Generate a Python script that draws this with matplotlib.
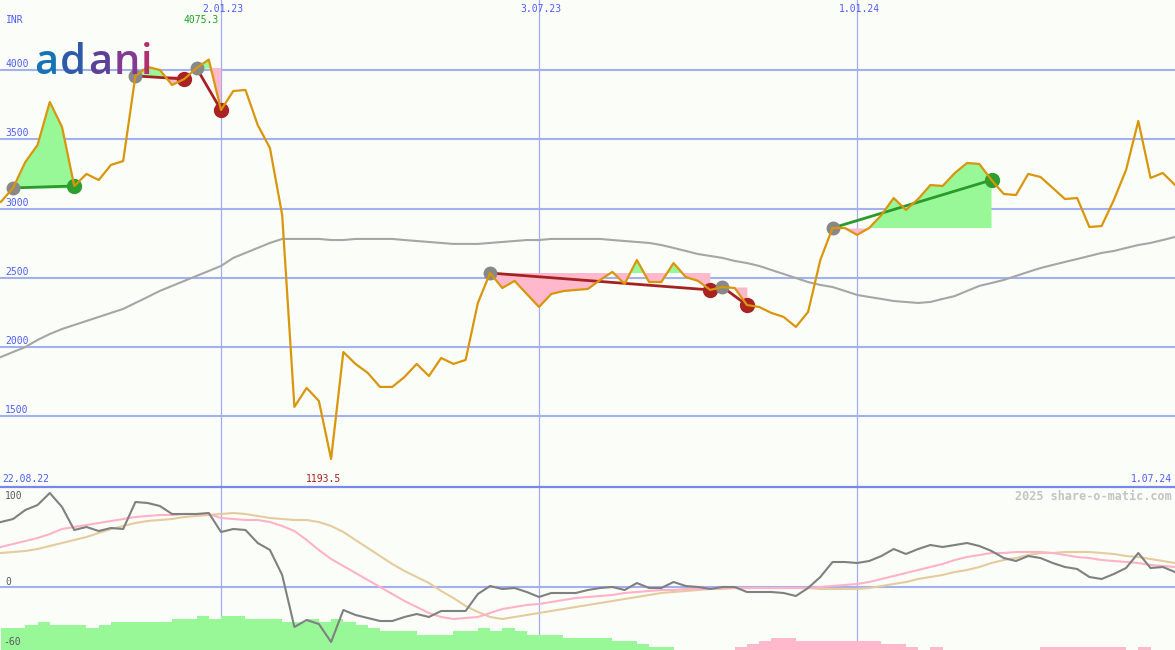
import matplotlib
matplotlib.use("Agg")
import numpy as np
import pandas as pd
import matplotlib.pyplot as plt
import matplotlib.dates as mdates

# weekly closes, INR
weeks = pd.date_range("2022-08-29", periods=97, freq="7D")
price = [3048, 3149, 3336, 3459, 3769, 3589, 3163, 3250, 3206, 3315,
         3343, 3957, 4022, 4000, 3892, 3935, 4014, 4075.3, 3711, 3848,
         3856, 3603, 3437, 2954, 1569, 1706, 1612, 1193.5, 1965, 1879,
         1814, 1713, 1713, 1785, 1879, 1792, 1922, 1879, 1908, 2319,
         2535, 2427, 2478, 2384, 2290, 2384, 2405, 2413, 2420, 2485,
         2543, 2456, 2629, 2470, 2470, 2607, 2506, 2478, 2413, 2434,
         2427, 2304, 2290, 2247, 2218, 2146, 2254, 2629, 2860, 2860,
         2810, 2860, 2954, 3076, 2990, 3069, 3170, 3163, 3257, 3329,
         3322, 3206, 3105, 3098, 3250, 3228, 3149, 3069, 3076, 2867,
         2874, 3062, 3279, 3632, 3221, 3257, 3170]
# long moving average (gray)
ma = [1929, 1965, 2001, 2052, 2095, 2131, 2160, 2189, 2218, 2247,
      2276, 2319, 2362, 2406, 2442, 2478, 2514, 2550, 2586, 2644,
      2680, 2716, 2752, 2781, 2781, 2781, 2781, 2773, 2773, 2781,
      2781, 2781, 2781, 2773, 2766, 2759, 2752, 2745, 2745, 2745,
      2752, 2759, 2766, 2773, 2773, 2781, 2781, 2781, 2781, 2781,
      2773, 2766, 2759, 2752, 2737, 2716, 2694, 2672, 2658, 2644,
      2622, 2607, 2586, 2557, 2528, 2499, 2470, 2449, 2434, 2406,
      2377, 2362, 2348, 2333, 2326, 2319, 2326, 2348, 2369, 2406,
      2442, 2463, 2485, 2514, 2543, 2571, 2593, 2615, 2636, 2658,
      2680, 2694, 2716, 2737, 2752, 2773, 2795]
# lower panel
mom = [65, 68, 77, 82, 94, 80, 57, 60, 56, 59,
       58, 85, 84, 81, 73, 73, 73, 74, 55, 58,
       57, 44, 37, 12, -40, -33, -37, -55, -23, -28,
       -31, -34, -34, -30, -27, -30, -24, -24, -24, -7,
       1, -2, -1, -5, -10, -6, -6, -6, -3, -1,
       0, -3, 4, -1, -1, 5, 1, 0, -2, 0,
       0, -5, -5, -5, -6, -9, -1, 10, 25, 25,
       24, 26, 31, 38, 33, 38, 42, 40, 42, 44,
       41, 36, 29, 26, 31, 29, 24, 20, 18, 10,
       8, 13, 19, 34, 19, 20, 15]
sig_fast = [40, 43, 46, 49, 53, 58, 60, 62, 64, 66,
            68, 70, 71, 72, 72, 73, 73, 73, 69, 68,
            67, 67, 65, 61, 56, 47, 37, 28, 21, 14,
            7, 0, -7, -14, -20, -26, -30, -32, -31, -30,
            -26, -22, -20, -18, -17, -15, -13, -11, -10, -9,
            -8, -6, -5, -4, -3, -3, -2, -2, -2, -1,
            -1, -1, -1, -1, -1, -1, -1, 0, 1, 2,
            3, 5, 8, 11, 14, 17, 20, 23, 27, 30,
            32, 34, 34, 35, 35, 35, 34, 32, 30, 29,
            27, 26, 25, 24, 22, 21, 20]
sig_slow = [34, 35, 36, 38, 41, 44, 47, 50, 54, 58,
            61, 64, 66, 67, 68, 70, 71, 72, 73, 74,
            73, 71, 69, 68, 67, 67, 65, 61, 55, 47,
            39, 31, 23, 16, 10, 4, -4, -11, -19, -25,
            -30, -32, -30, -28, -26, -24, -22, -20, -18, -16,
            -14, -12, -10, -8, -6, -5, -4, -3, -2, -2,
            -1, -1, -1, -1, -1, -1, -1, -2, -2, -2,
            -2, -1, 1, 3, 5, 8, 10, 12, 15, 17,
            20, 24, 27, 29, 32, 34, 34, 35, 35, 35,
            34, 33, 31, 30, 28, 26, 24]
hist = [22, 22, 25, 28, 25, 25, 25, 22, 25, 28,
        28, 28, 28, 28, 31, 31, 34, 31, 34, 34,
        31, 31, 31, 28, 28, 31, 28, 31, 28, 25,
        22, 19, 19, 19, 15, 15, 15, 19, 19, 22,
        19, 22, 19, 15, 15, 15, 12, 12, 12, 12,
        9, 9, 6, 3, 3, 0, 0, 0, 0, 0,
        -3, -6, -9, -12, -12, -9, -9, -9, -9, -9,
        -9, -9, -6, -6, -3, 0, -3, 0, 0, 0,
        0, 0, 0, 0, 0, -3, -3, -3, -3, -3,
        -3, -3, 0, -3, 0, 0, 0]
# trade signals: start week / end week
sig_start = [1, 11, 16, 40, 59, 68]
sig_end = [6, 15, 18, 58, 61, 81]

price_grid = [1500, 2000, 2500, 3000, 3500, 4000]
vdates = ["2023-01-02", "2023-07-03", "2024-01-01"]
vlabels = ["2.01.23", "3.07.23", "1.01.24"]

BG = "#fbfdf8"
GRID = "#a4b1f0"
BLUE = "#4f5cf5"
MONO = "DejaVu Sans Mono"
W, H = 1175, 650
SPLIT = 487

x = mdates.date2num(weeks)
price = np.array(price)

fig = plt.figure(figsize=(W / 100, H / 100), dpi=100, facecolor=BG)
ax = fig.add_axes([0, (H - SPLIT) / H, 1, SPLIT / H], facecolor=BG)
ax2 = fig.add_axes([0, 0, 1, (H - SPLIT) / H], facecolor=BG)

for a in (ax, ax2):
    a.set_xlim(x[0] - 0.5, x[-1])
    a.set_xticks([])
    a.set_yticks([])
    for sp in a.spines.values():
        sp.set_visible(False)
    for d in vdates:
        a.axvline(mdates.date2num(pd.Timestamp(d)), color="#a3abf2", lw=0.9, zorder=1)

ax.set_ylim(991, 4505)
ax2.set_ylim(-63, 100)

for v in price_grid:
    ax.axhline(v, color=GRID, lw=1.5, zorder=1)
    ax.annotate(str(v), xy=(0, v), xycoords=("axes fraction", "data"), xytext=(5, 1),
                textcoords="offset pixels", ha="left", va="bottom", color=BLUE,
                family=MONO, fontsize=7)

for d, lbl in zip(vdates, vlabels):
    ax.annotate(lbl, xy=(mdates.date2num(pd.Timestamp(d)), 1), xycoords=("data", "axes fraction"),
                xytext=(2, -9), textcoords="offset pixels", ha="center", va="center",
                color=BLUE, family=MONO, fontsize=7)

# gray long average
ax.plot(x, ma, color="#a6a6a6", lw=1.5, zorder=3)

# signal areas, lines and dots
for s, e in zip(sig_start, sig_end):
    sx = x[s:e + 1]
    sp_ = price[s:e + 1]
    base = price[s]
    ax.fill_between(sx, sp_, base, where=sp_ >= base, interpolate=True, color="#98f898", lw=0, zorder=2)
    ax.fill_between(sx, sp_, base, where=sp_ <= base, interpolate=True, color="#ffb8cc", lw=0, zorder=2)
    win = price[e] > base
    ax.plot([x[s], x[e]], [base, price[e]], color="#2a9a2a" if win else "#a52222", lw=2, zorder=4)
    ax.plot(x[s], base, "o", ms=9, color="#888888", zorder=5)
    ax.plot(x[e], price[e], "o", ms=10, color="#2e9e2e" if win else "#aa2222", zorder=5)

ax.plot(x, price, color="#d9960c", lw=1.6, zorder=6)

# high / low labels
imax = int(np.argmax(price))
imin = int(np.argmin(price))
ax.annotate(f"{price[imax]:.1f}", xy=(x[imax], 1), xycoords=("data", "axes fraction"),
            xytext=(-8, -20), textcoords="offset pixels", ha="center", va="center",
            color="#22a022", family=MONO, fontsize=7)
ax.annotate(f"{price[imin]:.1f}", xy=(x[imin], 0), xycoords=("data", "axes fraction"),
            xytext=(-8, 8), textcoords="offset pixels", ha="center", va="center",
            color="#a82222", family=MONO, fontsize=7)

# lower panel
ax2.axhline(0, color=GRID, lw=1.5, zorder=1)
ax2.axhline(100, color="#7888ea", lw=1.6, zorder=7, clip_on=False)
hist = np.array(hist)
ax2.bar(x, np.abs(hist), width=7, bottom=-63, align="edge",
        color=np.where(hist >= 0, "#98f898", "#ffb8cc"), lw=0, zorder=2)
ax2.plot(x, sig_slow, color="#e4cc9e", lw=1.5, zorder=3)
ax2.plot(x, sig_fast, color="#ffb2c8", lw=1.5, zorder=4)
ax2.plot(x, mom, color="#808080", lw=1.5, zorder=5)


def px(xp, yp):
    return xp / W, 1 - yp / H


fig.text(*px(6, 20), "INR", color=BLUE, family=MONO, fontsize=7, va="center")
fig.text(*px(2, 479), "22.08.22", color=BLUE, family=MONO, fontsize=7, va="center")
fig.text(*px(1172, 479), "1.07.24", color=BLUE, family=MONO, fontsize=7, va="center", ha="right")
fig.text(*px(5, 496), "100", color="#5a5a5a", family=MONO, fontsize=7, va="center")
fig.text(*px(5, 582), "0", color="#5a5a5a", family=MONO, fontsize=7, va="center")
fig.text(*px(3, 642), "-60", color="#5a5a5a", family=MONO, fontsize=7, va="center")
fig.text(*px(1172, 496), "2025 share-o-matic.com", color="#c4c4c4", family=MONO,
         fontsize=8.5, fontweight="bold", va="center", ha="right")

# logo, one letter per colour step
logo = [("a", 34, "#1673b5"), ("d", 60, "#2e5aa8"), ("a", 88, "#5c4199"),
        ("n", 114, "#823a92"), ("i", 141, "#b03070")]
for ch, lx, col in logo:
    fig.text(*px(lx, 74), ch, color=col, family="Open Sans", fontsize=30,
             fontweight="semibold", va="baseline", ha="left")

fig.savefig("out.png", dpi=100, facecolor=BG)
